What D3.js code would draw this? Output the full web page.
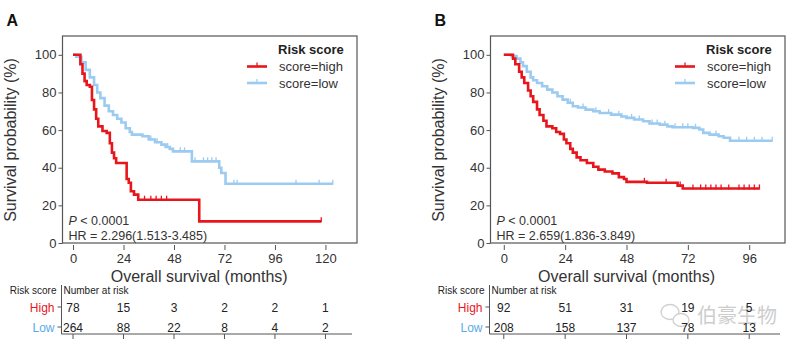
<!DOCTYPE html>
<html>
<head>
<meta charset="utf-8">
<script src="https://cdn.jsdelivr.net/npm/d3@7"></script>
<style>
  body { margin: 0; background: #fff; }
  svg { display: block; font-family: "Liberation Sans", Arial, sans-serif; }
</style>
</head>
<body>
<svg id="chart" width="800" height="353"></svg>
<script>
// ---- data ----
const yTicks = [0, 20, 40, 60, 80, 100];
const aTicks = [0, 24, 48, 72, 96, 120];
const bTicks = [0, 24, 48, 72, 96];

// Panel A, high risk (red)
const aHighT = [0, 3.5, 4.5, 5.5, 6.5, 8, 9, 10, 11, 12, 14, 16, 17.5, 18.5, 19.5, 20.5, 25.5, 26.5, 27.5, 29, 31, 60, 118];
const aHighS = [100, 95, 90, 86, 84, 83, 76, 71, 66, 62, 59.5, 58.5, 53, 48, 45, 42.5, 34, 32, 27.5, 25.7, 23, 11.5, 11.5];
const aHighCens = [34, 37, 39.5, 42, 44.5, 118];
// Panel A, low risk (blue)
const aLowT = [0, 1.5, 4, 6, 8, 10, 11.5, 13, 15, 17, 19, 21, 23, 25, 27, 28, 33, 36, 39, 42, 44, 46, 47.5, 56.5, 69.5, 70.5, 72.5, 123.5];
const aLowS = [100, 99, 96, 92, 88, 84, 80, 77, 73, 70, 68, 66, 64, 61, 59, 57.6, 56.7, 55, 53.5, 52.3, 51, 50, 48.7, 43.4, 40, 37.2, 31.5, 31.5];
const aLowCens = [37, 40, 45, 51, 53, 58, 62, 64, 66, 68, 76.5, 78, 106, 117, 123.5];

// Panel B, high risk (red)
const bHighT = [0, 3.6, 4.5, 6, 7, 8, 9.5, 10.5, 11.5, 13, 14, 15.5, 16.7, 19, 20.5, 22, 23.5, 24.5, 26, 27, 28.5, 30, 32.5, 35, 37, 39.5, 42.5, 45, 47, 48, 56, 68, 70, 100];
const bHighS = [100, 98, 95, 91, 88, 85, 81, 78, 75, 71, 68, 65, 62, 61, 59, 58, 55, 53, 50, 48, 45.5, 44, 42.5, 40.5, 39, 38, 37, 35, 34, 32.5, 32, 30.5, 29, 29];
const bHighCens = [55, 63.5, 69, 74, 77, 79, 81, 83, 85, 88, 92, 94, 96, 98, 100];
// Panel B, low risk (blue)
const bLowT = [0, 3, 5, 6.5, 7.5, 9, 10.5, 11.5, 13, 15, 17, 19, 21, 23, 25, 27, 29, 32, 35, 37.5, 42, 46, 48, 51, 54.5, 57, 61, 64, 66, 74, 76.5, 78, 80.5, 84, 86, 88.5, 105];
const bLowS = [100, 99.3, 98, 96, 94, 91, 88, 86.5, 85, 83.3, 81.5, 80, 78, 76.2, 74.5, 72.7, 72, 70.9, 70, 69.1, 68.2, 67.2, 66.5, 65.6, 64.7, 63.5, 62.9, 62, 61.5, 61.2, 60.3, 58.5, 57.6, 56.7, 55.9, 54.3, 54.3];
const bLowCens = [26, 31, 36, 41, 45, 50, 53, 58, 60, 63, 67, 70, 72, 75, 83, 92, 95, 98, 101, 105];

// number at risk
const aRiskHigh = [78, 15, 3, 2, 2, 1];
const aRiskLow = [264, 88, 22, 8, 4, 2];
const bRiskHigh = [92, 51, 31, 19, 5];
const bRiskLow = [208, 158, 137, 78, 13];

const RED = "#e8161c";
const BLUE = "#9ccbf1";
const TXT = "#333";

const svg = d3.select("#chart");

// watermark sits under everything else
const wm = svg.append("g").attr("fill", "none").attr("stroke", "#cfcfcf").attr("stroke-width", 1.3);
wm.append("ellipse").attr("cx", 670).attr("cy", 312).attr("rx", 9).attr("ry", 7.5);
wm.append("ellipse").attr("cx", 681).attr("cy", 320).attr("rx", 8).attr("ry", 6.5).attr("fill", "#fff");
svg.append("text").attr("x", 697).attr("y", 323).attr("font-size", 20)
  .attr("font-family", "'Noto Sans CJK SC', sans-serif").attr("fill", "#cdcdcd")
  .text("伯豪生物");

function stepAt(T, S, t) {
  let v = S[0];
  for (let i = 0; i < T.length; i++) if (T[i] <= t) v = S[i];
  return v;
}

function drawPanel(p) {
  const x = d3.scaleLinear().domain(p.xDomain).range([p.left, p.right]);
  const y = d3.scaleLinear().domain([0, 110]).range([243, 36]);
  const g = svg.append("g");

  g.append("text").attr("x", p.left - 56).attr("y", 26)
    .attr("font-size", 16).attr("font-weight", "bold").attr("fill", "#111")
    .text(p.letter);

  // y axis
  const ya = g.append("g").attr("transform", `translate(${p.left},0)`)
    .call(d3.axisLeft(y).tickValues(yTicks).tickSize(4).tickPadding(2));
  ya.select(".domain").remove();
  ya.selectAll("line").attr("stroke", "#555");
  ya.selectAll("text").attr("font-size", 13).attr("fill", TXT).attr("font-family", null);

  // x axis
  const xa = g.append("g").attr("transform", "translate(0,245)")
    .call(d3.axisBottom(x).tickValues(p.ticks).tickSize(5).tickPadding(4));
  xa.select(".domain").remove();
  xa.selectAll("line").attr("stroke", "#555");
  xa.selectAll("text").attr("font-size", 13).attr("fill", TXT).attr("font-family", null);

  g.append("text").attr("transform", `translate(${p.left - 47},140) rotate(-90)`)
    .attr("text-anchor", "middle").attr("font-size", 16).attr("fill", TXT)
    .text("Survival probability (%)");
  g.append("text").attr("x", (x(p.ticks[0]) + x(p.ticks[p.ticks.length - 1])) / 2).attr("y", 282)
    .attr("text-anchor", "middle").attr("font-size", 16).attr("fill", TXT)
    .text("Overall survival (months)");

  // curves
  const line = d3.line().x(d => x(d[0])).y(d => y(d[1])).curve(d3.curveStepAfter);
  p.series.forEach(s => {
    const pts = s.t.map((t, i) => [t, s.s[i]]);
    g.append("path").datum(pts).attr("d", line)
      .attr("fill", "none").attr("stroke", s.color).attr("stroke-width", 2.6);
    g.selectAll(null).data(s.cens).join("line")
      .attr("x1", d => x(d)).attr("x2", d => x(d))
      .attr("y1", d => y(stepAt(s.t, s.s, d)) - 4)
      .attr("y2", d => y(stepAt(s.t, s.s, d)) + 1)
      .attr("stroke", s.color).attr("stroke-width", 1.3);
  });

  // box
  g.append("rect").attr("x", p.left).attr("y", 36)
    .attr("width", p.right - p.left).attr("height", 207)
    .attr("fill", "none").attr("stroke", "#555").attr("stroke-width", 1.2);

  // legend
  const lx = p.right - 79;
  g.append("text").attr("x", lx).attr("y", 54).attr("font-size", 13)
    .attr("font-weight", "bold").attr("fill", "#222").text("Risk score");
  [["score=high", RED], ["score=low", BLUE]].forEach((d, i) => {
    const yy = 66.5 + i * 16.5;
    g.append("line").attr("x1", lx - 31).attr("x2", lx - 11).attr("y1", yy).attr("y2", yy)
      .attr("stroke", d[1]).attr("stroke-width", 2.6);
    g.append("line").attr("x1", lx - 21).attr("x2", lx - 21).attr("y1", yy - 4).attr("y2", yy)
      .attr("stroke", d[1]).attr("stroke-width", 1.3);
    g.append("text").attr("x", lx + 1).attr("y", yy + 4.5).attr("font-size", 13)
      .attr("fill", TXT).text(d[0]);
  });

  // P and HR
  const ptxt = g.append("text").attr("x", p.left + 6).attr("y", 225).attr("font-size", 12.5).attr("fill", TXT);
  ptxt.append("tspan").attr("font-style", "italic").text("P");
  ptxt.append("tspan").text(" < 0.0001");
  g.append("text").attr("x", p.left + 6).attr("y", 240).attr("font-size", 12.5)
    .attr("fill", TXT).text(p.hr);

  // risk table
  const tl = p.left - 1;
  g.append("text").attr("x", tl - 5).attr("y", 294).attr("text-anchor", "end")
    .attr("font-size", 10).attr("fill", "#222").text("Risk score");
  g.append("text").attr("x", tl + 2).attr("y", 294)
    .attr("font-size", 10).attr("fill", "#222").text("Number at risk");
  g.append("line").attr("x1", tl).attr("x2", tl).attr("y1", 285).attr("y2", 334)
    .attr("stroke", "#555");
  g.append("line").attr("x1", tl).attr("x2", p.tableRight).attr("y1", 334).attr("y2", 334)
    .attr("stroke", "#555");
  g.selectAll(null).data(p.ticks).join("line")
    .attr("x1", d => x(d)).attr("x2", d => x(d)).attr("y1", 334).attr("y2", 339)
    .attr("stroke", "#555");
  [["High", RED, p.riskHigh, 307], ["Low", "#5aaae6", p.riskLow, 327]].forEach(r => {
    g.append("line").attr("x1", tl - 4).attr("x2", tl).attr("y1", r[3]).attr("y2", r[3])
      .attr("stroke", "#555");
    g.append("text").attr("x", tl - 7).attr("y", r[3] + 4.5).attr("text-anchor", "end")
      .attr("font-size", 12).attr("fill", r[1]).text(r[0]);
    g.selectAll(null).data(r[2]).join("text")
      .attr("x", (d, i) => x(p.ticks[i])).attr("y", r[3] + 4.5)
      .attr("text-anchor", "middle").attr("font-size", 12).attr("fill", "#222")
      .text(d => d);
  });
}

drawPanel({
  letter: "A", left: 62.5, right: 357, xDomain: [-5, 135], ticks: aTicks, tableRight: 352,
  hr: "HR = 2.296(1.513-3.485)", riskHigh: aRiskHigh, riskLow: aRiskLow,
  series: [
    { t: aLowT, s: aLowS, cens: aLowCens, color: BLUE },
    { t: aHighT, s: aHighS, cens: aHighCens, color: RED }
  ]
});
drawPanel({
  letter: "B", left: 490.5, right: 785, xDomain: [-5.2, 110], ticks: bTicks, tableRight: 780,
  hr: "HR = 2.659(1.836-3.849)", riskHigh: bRiskHigh, riskLow: bRiskLow,
  series: [
    { t: bLowT, s: bLowS, cens: bLowCens, color: BLUE },
    { t: bHighT, s: bHighS, cens: bHighCens, color: RED }
  ]
});
</script>
</body>
</html>
